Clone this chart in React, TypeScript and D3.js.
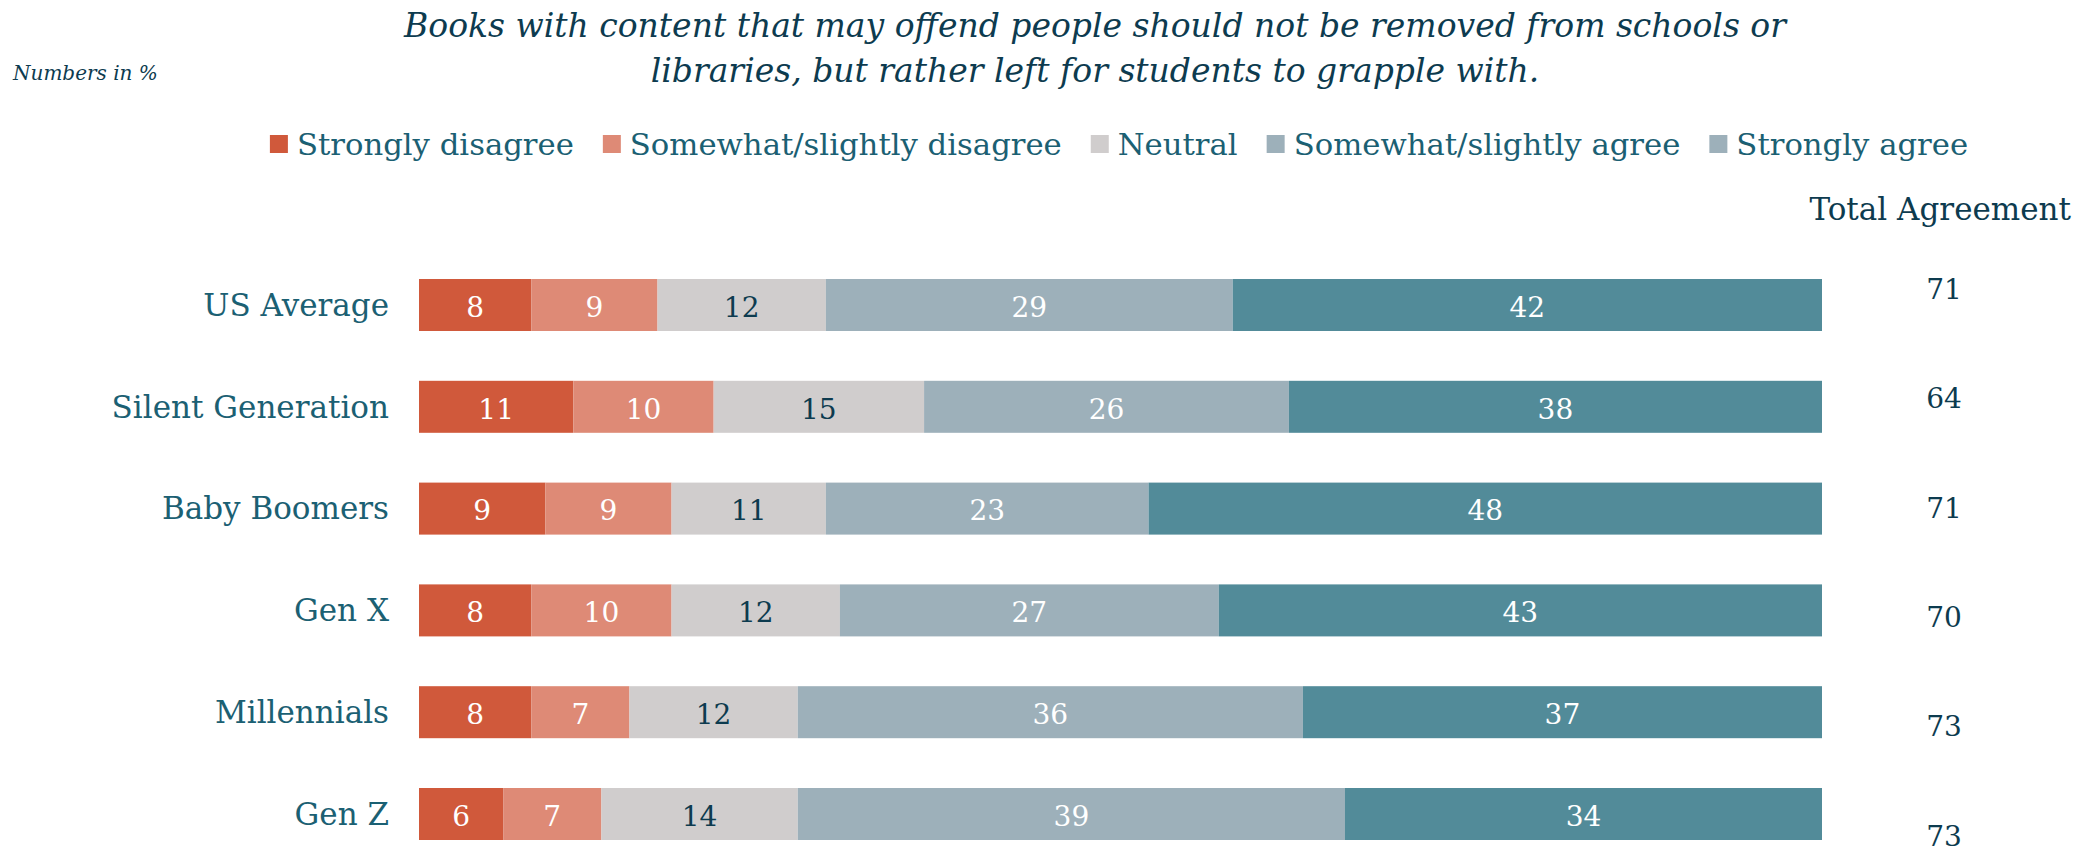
import React from "react";
import * as d3 from "d3";

const categories = ["US Average", "Silent Generation", "Baby Boomers", "Gen X", "Millennials", "Gen Z"];
const seriesNames = ["Strongly disagree", "Somewhat/slightly disagree", "Neutral", "Somewhat/slightly agree", "Strongly agree"];
const stronglyDisagree = [8, 11, 9, 8, 8, 6];
const somewhatDisagree = [9, 10, 9, 10, 7, 7];
const neutral = [12, 15, 11, 12, 12, 14];
const somewhatAgree = [29, 26, 23, 27, 36, 39];
const stronglyAgree = [42, 38, 48, 43, 37, 34];
const totalAgreement = [71, 64, 71, 70, 73, 73];
const titleLines = [
  "Books with content that may offend people should not be removed from schools or",
  "libraries, but rather left for students to grapple with.",
];
const noteText = "Numbers in %";
const totalHeader = "Total Agreement";

const seriesColors = ["#d0593b", "#de8a76", "#d0cdcd", "#9db0ba", "#528b99"];
const legendColors = ["#d0593b", "#de8a76", "#d0cdcd", "#9db0ba", "#9db0ba"];
const labelColors = ["#ffffff", "#ffffff", "#0d3b4f", "#ffffff", "#ffffff"];

const FONT = "'DejaVu Serif', serif";
const DARK = "#0d3b4f";
const TEAL = "#1b6073";

function measure(text: string, font: string): number {
  if (typeof document === "undefined") return text.length * 14;
  const c = document.createElement("canvas");
  const ctx = c.getContext("2d");
  if (!ctx) return text.length * 14;
  ctx.font = font;
  return ctx.measureText(text).width;
}

export default function App() {
  const W = 2088;
  const H = 853;
  const seriesValues = [stronglyDisagree, somewhatDisagree, neutral, somewhatAgree, stronglyAgree];
  const rows = categories.map((c, i) => {
    const o: any = { category: c };
    seriesNames.forEach((s, k) => (o[s] = seriesValues[k][i]));
    return o;
  });
  const stacked = d3.stack<any>().keys(seriesNames)(rows);

  const x = d3.scaleLinear().domain([0, 100]).range([419, 1822]);
  const y = d3.scalePoint<string>().domain(categories).range([305, 814]);
  const yTotal = d3.scalePoint<string>().domain(categories).range([289, 836]);
  const barH = 52;

  const legendFontSize = 30.7;
  const legendFont = `${legendFontSize}px 'DejaVu Serif'`;
  const sq = 18;
  const sqGap = 9;
  const itemGap = 29;
  const widths = seriesNames.map((s) => measure(s, legendFont));
  const totalW = widths.reduce((a, w) => a + sq + sqGap + w, 0) + itemGap * (seriesNames.length - 1);
  let lx = 1119 - totalW / 2;
  const legendItems = seriesNames.map((s, i) => {
    const item = { name: s, x: lx, color: legendColors[i] };
    lx += sq + sqGap + widths[i] + itemGap;
    return item;
  });
  const legendY = 144;

  return (
    <svg
      width={W}
      height={H}
      style={{ position: "absolute", left: 0, top: 0, background: "#fff" }}
      fontFamily={FONT}
    >
      <text x={13} y={80} fontSize={20} fontStyle="italic" fill={DARK}>
        {noteText}
      </text>
      {titleLines.map((t, i) => (
        <text key={i} x={1095} y={37 + i * 45} fontSize={33} fontStyle="italic" fill={DARK} textAnchor="middle">
          {t}
        </text>
      ))}
      {legendItems.map((it) => (
        <g key={it.name}>
          <rect x={it.x} y={legendY - sq / 2} width={sq} height={sq} fill={it.color} />
          <text x={it.x + sq + sqGap} y={legendY} dy="0.35em" fontSize={legendFontSize} fill={TEAL}>
            {it.name}
          </text>
        </g>
      ))}
      <text x={2071} y={220} fontSize={31} fill={DARK} textAnchor="end">
        {totalHeader}
      </text>
      {categories.map((c) => (
        <text key={c} x={389} y={y(c)} dy="0.35em" fontSize={31} fill={TEAL} textAnchor="end">
          {c}
        </text>
      ))}
      {stacked.map((layer, k) => (
        <g key={layer.key}>
          {layer.map((d: any, i: number) => (
            <g key={i}>
              <rect
                x={x(d[0])}
                y={(y(categories[i]) as number) - barH / 2}
                width={x(d[1]) - x(d[0])}
                height={barH}
                fill={seriesColors[k]}
              />
              <text
                x={(x(d[0]) + x(d[1])) / 2}
                y={(y(categories[i]) as number) + 2}
                dy="0.35em"
                fontSize={28}
                fill={labelColors[k]}
                textAnchor="middle"
              >
                {d[1] - d[0]}
              </text>
            </g>
          ))}
        </g>
      ))}
      {categories.map((c, i) => (
        <text key={c} x={1944} y={yTotal(c)} dy="0.35em" fontSize={28} fill={DARK} textAnchor="middle">
          {totalAgreement[i]}
        </text>
      ))}
    </svg>
  );
}
